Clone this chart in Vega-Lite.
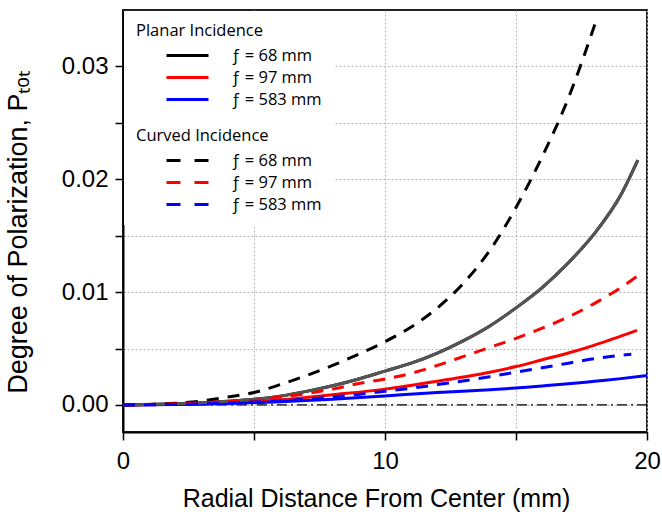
{
  "$schema": "https://vega.github.io/schema/vega-lite/v6.json",
  "width": 524,
  "height": 422,
  "autosize": {"type": "none"},
  "padding": {"left": 123, "top": 10, "right": 15, "bottom": 86},
  "background": "white",
  "config": {
    "view": {"stroke": "#222222", "strokeWidth": 2},
    "axis": {
      "labelFont": "Liberation Sans", "titleFont": "Liberation Sans",
      "labelFontSize": 24, "titleFontSize": 25, "titleFontWeight": "normal",
      "labelColor": "black", "titleColor": "black", "tickColor": "black",
      "domainColor": "black", "domainWidth": 2, "tickWidth": 1.5, "tickSize": 8,
      "gridColor": "#b5b5b5", "gridDash": [2, 2], "gridWidth": 1
    },
    "legend": {
      "fillColor": "white", "padding": 12,
      "titleFont": "Open Sans", "titleFontSize": 16.5, "titleFontWeight": "normal", "titleColor": "black",
      "labelFont": "Open Sans", "labelFontSize": 16.5, "labelColor": "black",
      "symbolType": "stroke", "symbolSize": 1764, "symbolStrokeWidth": 3,
      "clipHeight": 16, "rowPadding": 5, "titlePadding": 8,
      "symbolOffset": 29, "labelOffset": 21
    }
  },
  "datasets": {
    "zero": [{"y": 0}],
    "planar": [
      {"label": "ƒ = 68 mm", "x": 0, "y": 0},
      {"label": "ƒ = 68 mm", "x": 1, "y": 0.00003},
      {"label": "ƒ = 68 mm", "x": 2, "y": 0.0001},
      {"label": "ƒ = 68 mm", "x": 3, "y": 0.0002},
      {"label": "ƒ = 68 mm", "x": 4, "y": 0.00033},
      {"label": "ƒ = 68 mm", "x": 5, "y": 0.0005},
      {"label": "ƒ = 68 mm", "x": 6, "y": 0.00078},
      {"label": "ƒ = 68 mm", "x": 7, "y": 0.0012},
      {"label": "ƒ = 68 mm", "x": 8, "y": 0.0017},
      {"label": "ƒ = 68 mm", "x": 9, "y": 0.0023},
      {"label": "ƒ = 68 mm", "x": 10, "y": 0.003},
      {"label": "ƒ = 68 mm", "x": 11, "y": 0.0037},
      {"label": "ƒ = 68 mm", "x": 12, "y": 0.0046},
      {"label": "ƒ = 68 mm", "x": 13, "y": 0.0057},
      {"label": "ƒ = 68 mm", "x": 14, "y": 0.007},
      {"label": "ƒ = 68 mm", "x": 15, "y": 0.0086},
      {"label": "ƒ = 68 mm", "x": 16, "y": 0.0104},
      {"label": "ƒ = 68 mm", "x": 17, "y": 0.0126},
      {"label": "ƒ = 68 mm", "x": 18, "y": 0.0152},
      {"label": "ƒ = 68 mm", "x": 19, "y": 0.0186},
      {"label": "ƒ = 68 mm", "x": 19.65, "y": 0.0217},
      {"label": "ƒ = 97 mm", "x": 0, "y": 0},
      {"label": "ƒ = 97 mm", "x": 2, "y": 0.00005},
      {"label": "ƒ = 97 mm", "x": 4, "y": 0.0002},
      {"label": "ƒ = 97 mm", "x": 5, "y": 0.0003},
      {"label": "ƒ = 97 mm", "x": 6, "y": 0.00045},
      {"label": "ƒ = 97 mm", "x": 8, "y": 0.0009},
      {"label": "ƒ = 97 mm", "x": 10, "y": 0.0014},
      {"label": "ƒ = 97 mm", "x": 12, "y": 0.0021},
      {"label": "ƒ = 97 mm", "x": 14, "y": 0.0029},
      {"label": "ƒ = 97 mm", "x": 15, "y": 0.0034},
      {"label": "ƒ = 97 mm", "x": 16, "y": 0.004},
      {"label": "ƒ = 97 mm", "x": 17, "y": 0.0046},
      {"label": "ƒ = 97 mm", "x": 18, "y": 0.0053},
      {"label": "ƒ = 97 mm", "x": 19, "y": 0.0061},
      {"label": "ƒ = 97 mm", "x": 19.62, "y": 0.0066},
      {"label": "ƒ = 583 mm", "x": 0, "y": 0},
      {"label": "ƒ = 583 mm", "x": 2, "y": 0.00003},
      {"label": "ƒ = 583 mm", "x": 4, "y": 0.00012},
      {"label": "ƒ = 583 mm", "x": 6, "y": 0.00028},
      {"label": "ƒ = 583 mm", "x": 8, "y": 0.0005},
      {"label": "ƒ = 583 mm", "x": 10, "y": 0.0008},
      {"label": "ƒ = 583 mm", "x": 12, "y": 0.0011},
      {"label": "ƒ = 583 mm", "x": 14, "y": 0.00135},
      {"label": "ƒ = 583 mm", "x": 15, "y": 0.0015},
      {"label": "ƒ = 583 mm", "x": 16, "y": 0.00168},
      {"label": "ƒ = 583 mm", "x": 17, "y": 0.00187},
      {"label": "ƒ = 583 mm", "x": 18, "y": 0.0021},
      {"label": "ƒ = 583 mm", "x": 19, "y": 0.00233},
      {"label": "ƒ = 583 mm", "x": 20, "y": 0.0026}
    ],
    "curved": [
      {"label": "ƒ = 68 mm", "x": 0, "y": 0},
      {"label": "ƒ = 68 mm", "x": 1, "y": 0.00004},
      {"label": "ƒ = 68 mm", "x": 2, "y": 0.00015},
      {"label": "ƒ = 68 mm", "x": 3, "y": 0.00035},
      {"label": "ƒ = 68 mm", "x": 4, "y": 0.0007},
      {"label": "ƒ = 68 mm", "x": 5, "y": 0.0011},
      {"label": "ƒ = 68 mm", "x": 6, "y": 0.0018},
      {"label": "ƒ = 68 mm", "x": 7, "y": 0.0026},
      {"label": "ƒ = 68 mm", "x": 8, "y": 0.0035},
      {"label": "ƒ = 68 mm", "x": 9, "y": 0.0045},
      {"label": "ƒ = 68 mm", "x": 10, "y": 0.0056},
      {"label": "ƒ = 68 mm", "x": 11, "y": 0.0069},
      {"label": "ƒ = 68 mm", "x": 12, "y": 0.0086},
      {"label": "ƒ = 68 mm", "x": 13, "y": 0.0108},
      {"label": "ƒ = 68 mm", "x": 14, "y": 0.0137},
      {"label": "ƒ = 68 mm", "x": 15, "y": 0.0175},
      {"label": "ƒ = 68 mm", "x": 16, "y": 0.022},
      {"label": "ƒ = 68 mm", "x": 17, "y": 0.0272},
      {"label": "ƒ = 68 mm", "x": 18.05, "y": 0.034},
      {"label": "ƒ = 97 mm", "x": 0, "y": 0},
      {"label": "ƒ = 97 mm", "x": 2, "y": 0.0001},
      {"label": "ƒ = 97 mm", "x": 4, "y": 0.0003},
      {"label": "ƒ = 97 mm", "x": 5, "y": 0.0004},
      {"label": "ƒ = 97 mm", "x": 6, "y": 0.0007},
      {"label": "ƒ = 97 mm", "x": 7, "y": 0.001},
      {"label": "ƒ = 97 mm", "x": 8, "y": 0.0014},
      {"label": "ƒ = 97 mm", "x": 9, "y": 0.0019},
      {"label": "ƒ = 97 mm", "x": 10, "y": 0.0023},
      {"label": "ƒ = 97 mm", "x": 11, "y": 0.0028},
      {"label": "ƒ = 97 mm", "x": 12, "y": 0.0035},
      {"label": "ƒ = 97 mm", "x": 13, "y": 0.0043},
      {"label": "ƒ = 97 mm", "x": 14, "y": 0.0051},
      {"label": "ƒ = 97 mm", "x": 15, "y": 0.0059},
      {"label": "ƒ = 97 mm", "x": 16, "y": 0.0068},
      {"label": "ƒ = 97 mm", "x": 17, "y": 0.0078},
      {"label": "ƒ = 97 mm", "x": 18, "y": 0.009},
      {"label": "ƒ = 97 mm", "x": 19, "y": 0.0104},
      {"label": "ƒ = 97 mm", "x": 19.8, "y": 0.0117},
      {"label": "ƒ = 583 mm", "x": 0, "y": 0},
      {"label": "ƒ = 583 mm", "x": 2, "y": 0.00004},
      {"label": "ƒ = 583 mm", "x": 4, "y": 0.00015},
      {"label": "ƒ = 583 mm", "x": 5, "y": 0.00025},
      {"label": "ƒ = 583 mm", "x": 6, "y": 0.00035},
      {"label": "ƒ = 583 mm", "x": 8, "y": 0.0007},
      {"label": "ƒ = 583 mm", "x": 10, "y": 0.0012},
      {"label": "ƒ = 583 mm", "x": 12, "y": 0.0018},
      {"label": "ƒ = 583 mm", "x": 14, "y": 0.0025},
      {"label": "ƒ = 583 mm", "x": 15, "y": 0.0029},
      {"label": "ƒ = 583 mm", "x": 16, "y": 0.0033},
      {"label": "ƒ = 583 mm", "x": 17, "y": 0.0037},
      {"label": "ƒ = 583 mm", "x": 18, "y": 0.0041},
      {"label": "ƒ = 583 mm", "x": 19, "y": 0.0044},
      {"label": "ƒ = 583 mm", "x": 19.4, "y": 0.0045}
    ]
  },
  "layer": [
    {
      "data": {"name": "zero"},
      "mark": {"type": "rule", "color": "black", "strokeWidth": 1.3, "strokeDash": [10, 4, 2, 4]},
      "encoding": {
        "y": {"field": "y", "type": "quantitative", "title": "Degree of Polarization, Pₜₒₜ",
          "scale": {"domain": [-0.0024, 0.035], "nice": false, "zero": false},
          "axis": {"values": [0, 0.005, 0.01, 0.015, 0.02, 0.025, 0.03],
            "labelExpr": "abs(datum.value*100 - round(datum.value*100)) < 0.001 ? format(datum.value, '.2f') : ''",
            "grid": true, "labelPadding": 7, "titleFontSize": 27, "titleAngle": -90, "titleX": -97, "titleY": 222,
            "titleBaseline": "alphabetic", "titleAlign": "center"}}
      }
    },
    {
      "data": {"name": "planar"},
      "mark": {"type": "line", "strokeWidth": 3, "interpolate": "monotone"},
      "encoding": {
        "x": {"field": "x", "type": "quantitative", "title": "Radial Distance From Center (mm)",
          "scale": {"domain": [0, 20], "nice": false},
          "axis": {"values": [0, 5, 10, 15, 20], "labelExpr": "datum.value % 10 == 0 ? datum.label : ''",
            "grid": true, "labelPadding": 9, "labelFlush": false, "labelOverlap": false,
            "titleX": 253, "titleY": 66, "titleBaseline": "middle"}},
        "y": {"field": "y", "type": "quantitative", "title": "Degree of Polarization, Pₜₒₜ"},
        "color": {"field": "label", "type": "nominal",
          "scale": {"domain": ["ƒ = 68 mm", "ƒ = 97 mm", "ƒ = 583 mm"], "range": ["#000000", "#ff0000", "#0000ff"]},
          "legend": {"title": "Planar Incidence", "orient": "none", "legendX": 1, "legendY": 1}}
      }
    },
    {
      "data": {"name": "planar"},
      "transform": [{"filter": "datum.label === 'ƒ = 68 mm'"}],
      "mark": {"type": "line", "strokeWidth": 3, "interpolate": "monotone", "color": "#555555"},
      "encoding": {
        "x": {"field": "x", "type": "quantitative", "title": "Radial Distance From Center (mm)"},
        "y": {"field": "y", "type": "quantitative", "title": "Degree of Polarization, Pₜₒₜ"}
      }
    },
    {
      "data": {"name": "curved"},
      "mark": {"type": "line", "strokeWidth": 3, "interpolate": "monotone", "strokeDash": [12, 9]},
      "encoding": {
        "x": {"field": "x", "type": "quantitative", "title": "Radial Distance From Center (mm)"},
        "y": {"field": "y", "type": "quantitative", "title": "Degree of Polarization, Pₜₒₜ"},
        "color": {"field": "label", "type": "nominal",
          "scale": {"domain": ["ƒ = 68 mm", "ƒ = 97 mm", "ƒ = 583 mm"], "range": ["#000000", "#ff0000", "#0000ff"]},
          "legend": {"title": "Curved Incidence", "orient": "none", "legendX": 1, "legendY": 106, "symbolDash": [14, 14]}}
      }
    }
  ],
  "resolve": {"scale": {"color": "independent"}}
}
